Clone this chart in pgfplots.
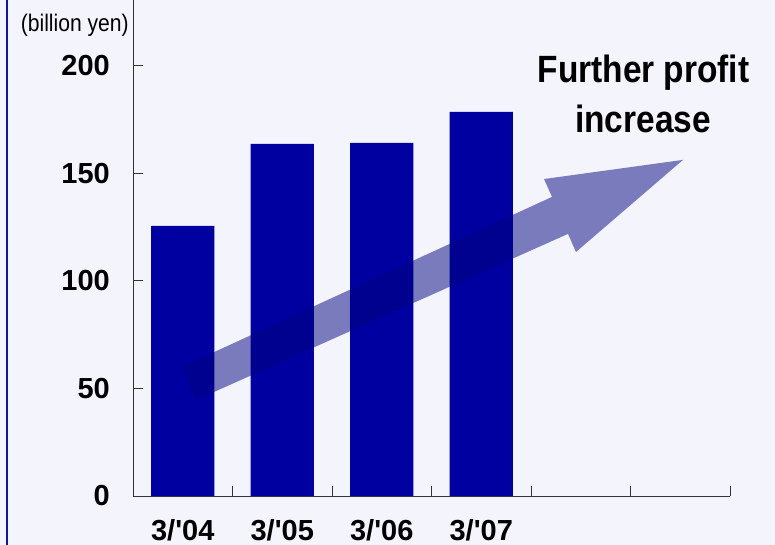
\documentclass[border=0pt]{standalone}
\usepackage{fontspec}
\setmainfont[FakeStretch=0.88]{Liberation Sans}
\newfontfamily\tickfont{Liberation Sans}
\usepackage{pgfplots}
\pgfplotsset{compat=1.18}
\definecolor{bg}{RGB}{244,244,252}
\definecolor{barcol}{RGB}{0,0,160}
\definecolor{arrowcol}{RGB}{0,4,128}
\definecolor{bordercol}{RGB}{20,20,160}
\begin{document}
\begin{tikzpicture}
\useasboundingbox (0,0) rectangle (775bp,545bp);
\fill[bg] (0,0) rectangle (775bp,545bp);
\draw[bordercol, line width=2bp] (7bp,0) -- (7bp,545bp);
\begin{axis}[
 at={(133bp,49bp)}, anchor=south west,
 scale only axis, width=597bp, height=496bp,
 xmin=-0.5, xmax=5.5, ymin=0, ymax=230.5,
 axis x line*=bottom, axis y line*=left,
 axis line style={line width=0.8bp, black!80},
 tick align=inside,
 major tick length=10bp,
 tick style={line width=0.8bp, black!80},
 xtick={-0.5,0.5,1.5,2.5,3.5,4.5,5.5}, xticklabels={},
 extra x ticks={0,1,2,3},
 extra x tick labels={3/\textquotesingle04,3/\textquotesingle05,3/\textquotesingle06,3/\textquotesingle07},
 extra x tick style={major tick length=0pt, xticklabel style={anchor=base, yshift=-44bp, inner sep=0pt, font=\tickfont\fontsize{29bp}{29bp}\selectfont\bfseries}},
 ytick={0,50,100,150,200},
 yticklabel style={anchor=east, inner sep=0pt, xshift=-23bp, font=\tickfont\fontsize{29bp}{29bp}\selectfont\bfseries},
 /pgf/number format/assume math mode=true,
 clip=false,
]
\addplot[ybar, bar width=63bp, bar shift=0pt, fill=barcol, draw=none] coordinates {(0,125.5) (1,163.6) (2,164.1) (3,178.5)};
\addplot[draw=none, fill=arrowcol, fill opacity=0.5] coordinates {(-0.008,60.0) (3.711,139.0) (3.631,147.3) (5.028,156.2) (3.952,113.4) (3.872,121.8) (0.133,44.6)} -- cycle;
\end{axis}
\node[anchor=base, inner sep=0pt, font=\fontsize{38bp}{38bp}\selectfont\bfseries] at (643.5bp,462bp) {Further profit};
\node[anchor=base, inner sep=0pt, font=\fontsize{38bp}{38bp}\selectfont\bfseries] at (643bp,412bp) {increase};
\node[anchor=base east, inner sep=0pt, font=\fontsize{24bp}{24bp}\selectfont] at (129bp,513bp) {(billion yen)};
\end{tikzpicture}
\end{document}
